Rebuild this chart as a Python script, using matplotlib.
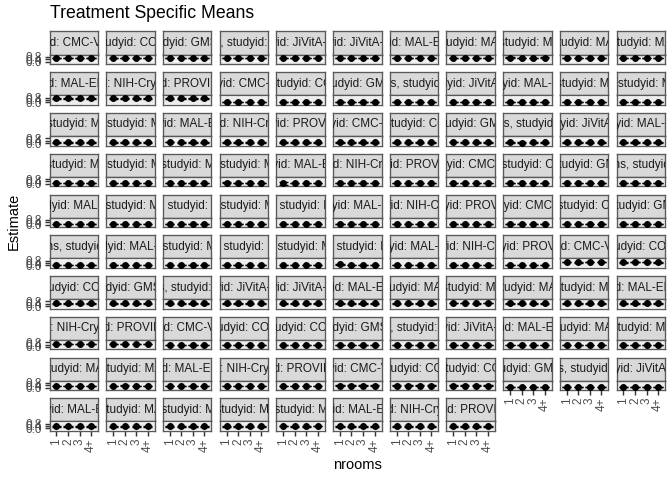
import numpy as np
import matplotlib.pyplot as plt

plt.rcParams['font.family'] = ['Liberation Sans', 'DejaVu Sans']

# nrooms levels on the x axis
nrooms = ["1", "2", "3", "4+"]

# facet groups: age category and the studies shown in that group
agecats = ["0-24 months", "Birth-3 months", "Birth-6 months", "Birth-12 months",
           "Birth-24 months", "6-24 months", "3-24 months", "12-24 months"]
maled = ["BANGLADESH", "BRAZIL", "INDIA", "NEPAL", "PERU", "SOUTH AFRICA"]
studies_full = ["CMC-V-BCS-2002|INDIA", "CONTENT|PERU", "GMS-Nepal|NEPAL", "IRC|INDIA",
                "JiVitA-3|BANGLADESH", "JiVitA-4|BANGLADESH"] + ["MAL-ED|" + c for c in maled] + \
               ["NIH-Crypto|BANGLADESH", "PROVIDE|BANGLADESH"]
studies_one_jivita = [s for s in studies_full if not s.startswith("JiVitA-4")]
studies_no_jivita = [s for s in studies_one_jivita if not s.startswith("JiVitA")]
studies_cohorts = ["CMC-V-BCS-2002|INDIA", "COHORTS|INDIA"] + studies_full[1:]
studies_cohorts_one = [s for s in studies_cohorts if not s.startswith("JiVitA-4")]
group_studies = [studies_full, studies_one_jivita, studies_one_jivita, studies_no_jivita,
                 studies_no_jivita, studies_cohorts, studies_cohorts_one, studies_cohorts_one]

# estimates per panel (4 nrooms levels), grouped by age category
est_g1 = [[0.66, 0.65, 0.66, 0.66], [0.65, 0.66, 0.66, 0.67], [0.66, 0.66, 0.65, 0.66],
          [0.67, 0.66, 0.66, 0.65], [0.65, 0.66, 0.66, 0.66], [0.66, 0.66, 0.67, 0.66],
          [0.66, 0.65, 0.66, 0.66], [0.65, 0.66, 0.66, 0.66], [0.68, 0.67, 0.67, 0.68],
          [0.66, 0.66, 0.65, 0.66], [0.66, 0.67, 0.66, 0.66], [0.67, 0.66, 0.66, 0.66],
          [0.66, 0.66, 0.67, 0.66], [0.66, 0.66, 0.66, 0.67]]
est_g2 = [[0.10, 0.09, 0.10, 0.10], [0.09, 0.10, 0.10, 0.11], [0.10, 0.10, 0.09, 0.10],
          [0.11, 0.10, 0.10, 0.09], [0.10, 0.10, 0.11, 0.10], [0.10, 0.09, 0.10, 0.10],
          [0.09, 0.10, 0.10, 0.10], [0.10, 0.10, 0.10, 0.11], [0.10, 0.11, 0.10, 0.10],
          [0.11, 0.10, 0.10, 0.10], [0.22, 0.11, 0.10, 0.11], [0.10, 0.10, 0.11, 0.10],
          [0.10, 0.10, 0.10, 0.10]]
est_g3 = [[0.10, 0.10, 0.11, 0.10], [0.11, 0.10, 0.10, 0.10], [0.18, 0.10, 0.10, 0.10],
          [0.10, 0.09, 0.10, 0.10], [0.10, 0.10, 0.10, 0.11], [0.10, 0.11, 0.10, 0.10],
          [0.10, 0.10, 0.10, 0.10], [0.11, 0.10, 0.10, 0.10], [0.10, 0.10, 0.11, 0.10],
          [0.20, 0.10, 0.10, 0.10], [0.10, 0.11, 0.10, 0.10], [0.10, 0.10, 0.10, 0.11],
          [0.10, 0.10, 0.10, 0.10]]
est_g4 = [[0.10, 0.10, 0.10, 0.11], [0.11, 0.10, 0.10, 0.10], [0.10, 0.10, 0.11, 0.10],
          [0.10, 0.11, 0.10, 0.10], [0.10, 0.10, 0.10, 0.10], [0.11, 0.10, 0.10, 0.10],
          [0.10, 0.10, 0.11, 0.10], [0.10, 0.10, 0.10, 0.10], [0.10, 0.11, 0.10, 0.11],
          [0.14, 0.10, 0.10, 0.10], [0.10, 0.10, 0.10, 0.10], [0.10, 0.10, 0.11, 0.10]]
est_g5 = [[0.10, 0.10, 0.11, 0.10], [0.10, 0.10, 0.10, 0.10], [0.11, 0.10, 0.10, 0.10],
          [0.10, 0.10, 0.10, 0.11], [0.10, 0.11, 0.10, 0.10], [0.10, 0.10, 0.10, 0.10],
          [0.11, 0.10, 0.10, 0.10], [0.10, 0.10, 0.11, 0.10], [0.16, 0.10, 0.10, 0.10],
          [0.10, 0.10, 0.10, 0.11], [0.10, 0.11, 0.10, 0.10], [0.10, 0.10, 0.10, 0.10]]
est_g6 = [[0.52, 0.51, 0.52, 0.52], [0.51, 0.52, 0.52, 0.51], [0.47, 0.46, 0.47, 0.47],
          [0.46, 0.47, 0.47, 0.46], [0.47, 0.46, 0.46, 0.47], [0.46, 0.47, 0.46, 0.47],
          [0.47, 0.47, 0.46, 0.46], [0.46, 0.46, 0.47, 0.47], [0.47, 0.46, 0.47, 0.46],
          [0.48, 0.48, 0.47, 0.48], [0.46, 0.47, 0.47, 0.46], [0.47, 0.46, 0.46, 0.47],
          [0.46, 0.46, 0.47, 0.46], [0.44, 0.45, 0.44, 0.45], [0.45, 0.44, 0.45, 0.44]]
est_g7 = [[0.32, 0.31, 0.32, 0.32], [0.31, 0.32, 0.32, 0.31], [0.32, 0.32, 0.31, 0.32],
          [0.31, 0.32, 0.32, 0.32], [0.32, 0.31, 0.32, 0.31], [0.32, 0.32, 0.32, 0.31],
          [0.31, 0.32, 0.31, 0.32], [0.32, 0.31, 0.32, 0.32], [0.33, 0.32, 0.32, 0.33],
          [0.32, 0.32, 0.31, 0.32], [0.32, 0.33, 0.32, 0.32], [0.32, 0.32, 0.32, 0.31],
          [0.31, 0.32, 0.32, 0.32], [0.32, 0.31, 0.32, 0.32]]
est_g8 = [[0.34, 0.33, 0.34, 0.34], [0.33, 0.34, 0.34, 0.33], [0.34, 0.34, 0.33, 0.34],
          [0.14, 0.13, 0.14, 0.14], [0.13, 0.14, 0.14, 0.13], [0.14, 0.14, 0.13, 0.14],
          [0.34, 0.33, 0.34, 0.34], [0.33, 0.34, 0.34, 0.34], [0.34, 0.34, 0.33, 0.34],
          [0.34, 0.33, 0.34, 0.33], [0.35, 0.34, 0.34, 0.35], [0.34, 0.34, 0.33, 0.34],
          [0.33, 0.34, 0.34, 0.33], [0.34, 0.33, 0.34, 0.34]]
group_estimates = [est_g1, est_g2, est_g3, est_g4, est_g5, est_g6, est_g7, est_g8]

# half width of the confidence intervals (mostly tiny)
ci_default = 0.03
ci_wide = {(2, 10): [0.22, 0.03, 0.03, 0.03], (2, 2): [0.08, 0.03, 0.03, 0.03]}

labels, estimates, halfwidths = [], [], []
for g, (age, studs) in enumerate(zip(agecats, group_studies)):
    for i, s in enumerate(studs):
        sid, country = s.split("|")
        labels.append(f"agecat: {age}, studyid: {sid}, country: {country}")
        estimates.append(group_estimates[g][i])
        halfwidths.append(ci_wide.get((g, i), [ci_default] * 4))

n_panels = len(labels)
ncol = 11
nrow = int(np.ceil(n_panels / ncol))

W, H = 672, 480
fig = plt.figure(figsize=(W / 96, H / 96), dpi=96)

def box(x, y, w, h):
    return [x / W, 1 - (y + h) / H, w / W, h / H]

x0, xstep, pw = 49.5, 56.7, 48.5
y0, ystep, sh, ph = 31.5, 40.75, 23.0, 9.5
border = '#595959'
xpos = np.arange(1, 5)

for p in range(n_panels):
    r, c = divmod(p, ncol)
    top = y0 + r * ystep
    left = x0 + c * xstep

    # strip
    ax_s = fig.add_axes(box(left, top, pw, sh))
    ax_s.set_facecolor('#D9D9D9')
    ax_s.set_xticks([]); ax_s.set_yticks([])
    for sp in ax_s.spines.values():
        sp.set_color(border); sp.set_linewidth(1.0)
    ax_s.text(0.5, 0.5, labels[p], transform=ax_s.transAxes, ha='center', va='center',
              fontsize=8.8, color='#1A1A1A', clip_on=True)

    # panel
    ax = fig.add_axes(box(left, top + sh, pw, ph))
    ax.set_xlim(0.4, 4.6)
    ax.set_ylim(-0.42, 1.22)
    ax.set_yticks([0.0, 0.4, 0.8])
    ax.set_yticks([-0.2, 0.2, 0.6, 1.0], minor=True)
    ax.set_xticks(xpos)
    ax.grid(True, which='major', color='#EBEBEB', lw=1.07, zorder=0)
    ax.grid(True, which='minor', axis='y', color='#EBEBEB', lw=0.53, zorder=0)
    ax.set_axisbelow(True)
    for sp in ax.spines.values():
        sp.set_color(border); sp.set_linewidth(1.0)
    ax.tick_params(which='minor', length=0)

    est = np.array(estimates[p])
    hw = np.array(halfwidths[p])
    ax.vlines(xpos, est - hw, est + hw, color='black', lw=1.07, zorder=3)
    ax.hlines(est - hw, xpos - 0.4, xpos + 0.4, color='black', lw=1.07, zorder=3)
    ax.hlines(est + hw, xpos - 0.4, xpos + 0.4, color='black', lw=1.07, zorder=3)
    ax.plot(xpos, est, 'o', color='black', ms=4.2, zorder=4)

    if c == 0:
        ax.tick_params(axis='y', length=3.67, width=1.07, color='#333333',
                       labelsize=8.8, labelcolor='#4D4D4D', pad=2.2)
    else:
        ax.tick_params(axis='y', length=0, labelleft=False)

    bottom = (r == nrow - 1) or (p + ncol >= n_panels)
    if bottom:
        ax.set_xticklabels(nrooms, rotation=90, va='top', ha='center')
        ax.tick_params(axis='x', length=3.67, width=1.07, color='#333333',
                       labelsize=8.8, labelcolor='#4D4D4D', pad=2.2)
    else:
        ax.tick_params(axis='x', length=0, labelbottom=False)

fig.text(x0 / W, 1 - 14 / H, "Treatment Specific Means", fontsize=13.2,
         ha='left', va='center', color='black')
fig.text(14 / W, 1 - 221 / H, "Estimate", fontsize=11, rotation=90,
         ha='center', va='center', color='black')
fig.text((x0 + 10 * xstep + pw + x0) / 2 / W, 1 - 465 / H, "nrooms", fontsize=11,
         ha='center', va='center', color='black')

fig.savefig("out.png", dpi=96)
